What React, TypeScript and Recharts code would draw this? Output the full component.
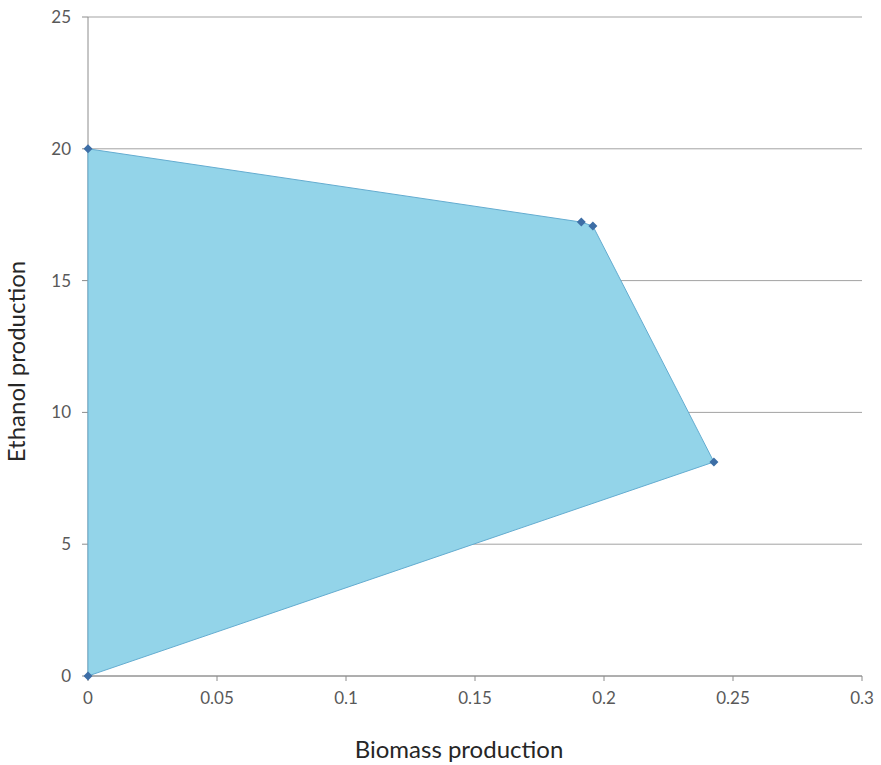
import { CartesianGrid, Label, Scatter, ScatterChart, XAxis, YAxis } from "recharts";

// corners of the feasible region, in drawing order
const biomass = [0, 0, 0.1912, 0.1957, 0.2426];
const ethanol = [0, 20, 17.22, 17.07, 8.12];

const xTicks = [0, 0.05, 0.1, 0.15, 0.2, 0.25, 0.3];
const yTicks = [0, 5, 10, 15, 20, 25];

const data = biomass.map((x, i) => ({ x, y: ethanol[i] }));

const FONT = "Lato, 'Open Sans', sans-serif";

// closed, filled outline through all the scatter points
const Region = (props: any) => {
  const pts = props.points || [];
  if (!pts.length) return null;
  const d = pts.map((p: any, i: number) => `${i ? "L" : "M"}${p.x},${p.y}`).join("") + "Z";
  return <path d={d} fill="#93d4e9" stroke="#64acd0" strokeWidth={1} />;
};

const Diamond = (props: any) => {
  const { cx, cy } = props;
  const r = 4.5;
  return (
    <path
      d={`M${cx},${cy - r}L${cx + r},${cy}L${cx},${cy + r}L${cx - r},${cy}Z`}
      fill="#3d6ea6"
    />
  );
};

export default function App() {
  return (
    <div style={{ position: "absolute", left: 0, top: 0, background: "#fff" }}>
      <ScatterChart
        width={881}
        height={765}
        margin={{ top: 17, right: 19, bottom: 0, left: 0 }}
      >
        <CartesianGrid vertical={false} stroke="#a3a3a3" />
        <XAxis
          type="number"
          dataKey="x"
          domain={[0, 0.3]}
          ticks={xTicks}
          height={89}
          stroke="#8c8c8c"
          tickSize={5}
          tickMargin={11}
          tick={{ fill: "#595959", fontSize: 17, fontFamily: FONT }}
        >
          <Label
            value="Biomass production"
            position="insideBottom"
            offset={7}
            dx={-16}
            style={{ fill: "#262626", fontSize: 24, fontFamily: FONT }}
          />
        </XAxis>
        <YAxis
          type="number"
          dataKey="y"
          domain={[0, 25]}
          ticks={yTicks}
          width={88}
          stroke="#8c8c8c"
          tickSize={6}
          tickMargin={11}
          tick={{ fill: "#595959", fontSize: 17, fontFamily: FONT }}
        >
          <Label
            content={({ viewBox }: any) => {
              const cx = viewBox.x + 15;
              const cy = viewBox.y + viewBox.height / 2 + 15;
              return (
                <text
                  x={cx}
                  y={cy}
                  transform={`rotate(-90, ${cx}, ${cy})`}
                  textAnchor="middle"
                  dominantBaseline="central"
                  fill="#262626"
                  fontSize={24}
                  fontFamily={FONT}
                >
                  Ethanol production
                </text>
              );
            }}
          />
        </YAxis>
        <Scatter
          data={data}
          line={Region}
          shape={Diamond}
          isAnimationActive={false}
        />
      </ScatterChart>
    </div>
  );
}
